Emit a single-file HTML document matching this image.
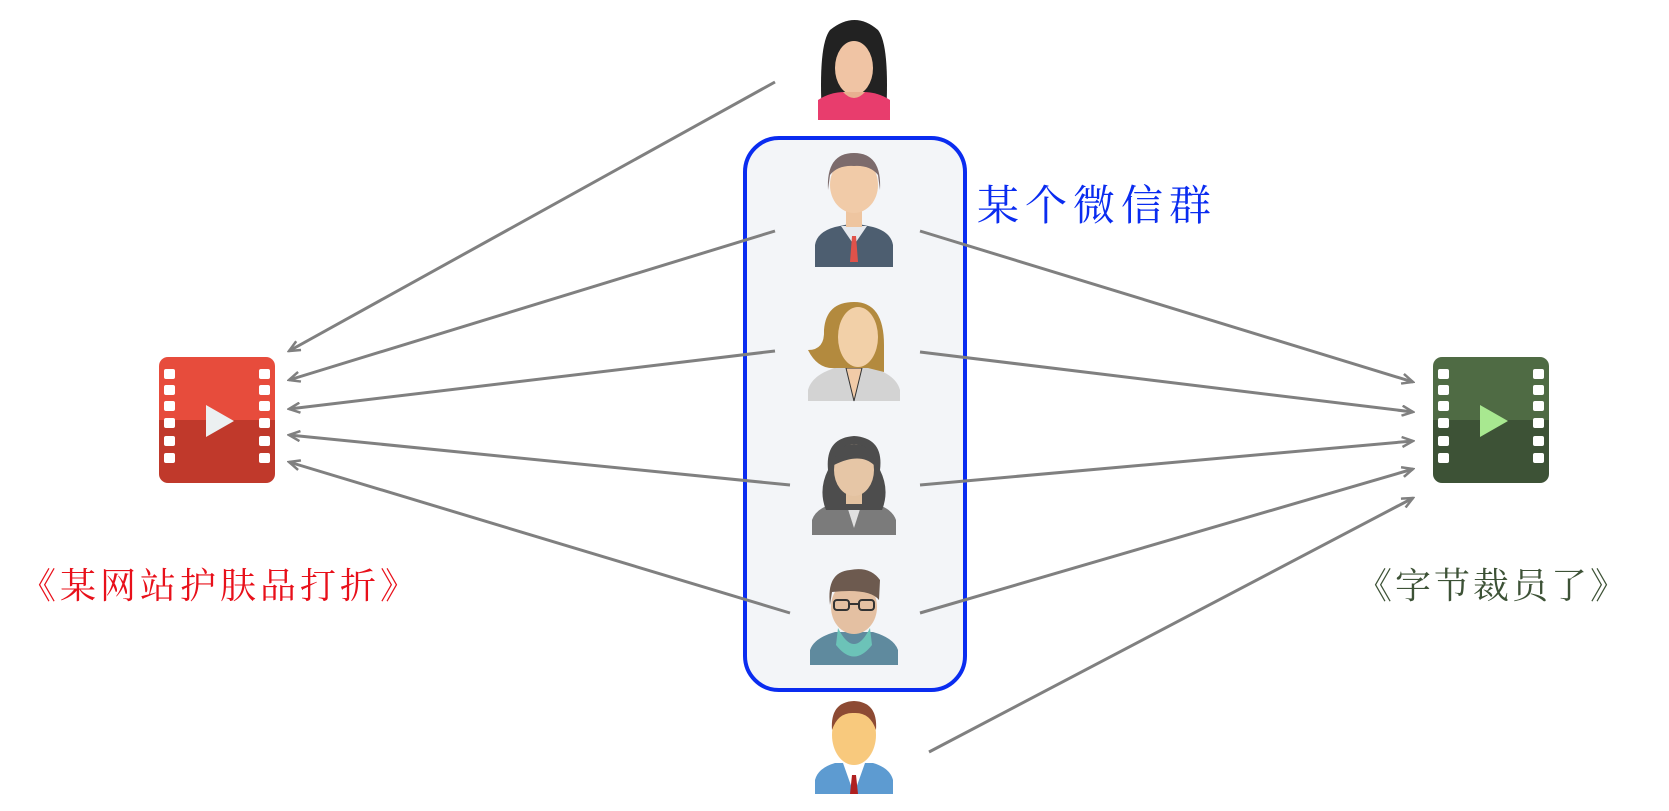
<!DOCTYPE html>
<html><head><meta charset="utf-8"><style>
html,body{margin:0;padding:0;background:#fff;width:1669px;height:811px;overflow:hidden}
svg{display:block}
text{font-family:"Liberation Serif","Noto Serif CJK SC",serif}
</style></head><body>
<svg width="1669" height="811" viewBox="0 0 1669 811" xmlns="http://www.w3.org/2000/svg">
<defs>
<marker id="ah" markerWidth="14" markerHeight="12" refX="12" refY="6" orient="auto" markerUnits="userSpaceOnUse">
<path d="M1,1 L12,6 L1,11" fill="none" stroke="#808080" stroke-width="2.5"/>
</marker>
</defs>
<rect x="745" y="138" width="220" height="552" rx="34" fill="#f3f5f8" stroke="#0a2cf0" stroke-width="4"/>
<g stroke="#808080" stroke-width="3" fill="none" marker-end="url(#ah)">
<line x1="775" y1="82" x2="289" y2="351"/>
<line x1="775" y1="231" x2="289" y2="380"/>
<line x1="775" y1="351" x2="289" y2="409"/>
<line x1="790" y1="485" x2="289" y2="435"/>
<line x1="790" y1="613" x2="289" y2="462"/>
<line x1="920" y1="231" x2="1413" y2="382"/>
<line x1="920" y1="352" x2="1413" y2="412"/>
<line x1="920" y1="485" x2="1413" y2="441"/>
<line x1="920" y1="613" x2="1413" y2="469"/>
<line x1="929" y1="752" x2="1413" y2="498"/>
</g>
<g transform="translate(159,357)">
<path d="M9,0 H107 A9,9 0 0 1 116,9 V63 H0 V9 A9,9 0 0 1 9,0Z" fill="#e74c3c"/>
<path d="M0,63 H116 V117 A9,9 0 0 1 107,126 H9 A9,9 0 0 1 0,117Z" fill="#c0392b"/>
<g fill="#fff">
<rect x="5" y="12" width="11" height="10" rx="2"/><rect x="5" y="28" width="11" height="10" rx="2"/><rect x="5" y="44" width="11" height="10" rx="2"/><rect x="5" y="61" width="11" height="10" rx="2"/><rect x="5" y="79" width="11" height="10" rx="2"/><rect x="5" y="96" width="11" height="10" rx="2"/>
<rect x="100" y="12" width="11" height="10" rx="2"/><rect x="100" y="28" width="11" height="10" rx="2"/><rect x="100" y="44" width="11" height="10" rx="2"/><rect x="100" y="61" width="11" height="10" rx="2"/><rect x="100" y="79" width="11" height="10" rx="2"/><rect x="100" y="96" width="11" height="10" rx="2"/>
</g>
<path d="M47,48 L75,64 L47,80Z" fill="#ecf0f1"/>
</g>
<g transform="translate(1433,357)">
<path d="M9,0 H107 A9,9 0 0 1 116,9 V63 H0 V9 A9,9 0 0 1 9,0Z" fill="#4f6b44"/>
<path d="M0,63 H116 V117 A9,9 0 0 1 107,126 H9 A9,9 0 0 1 0,117Z" fill="#3d5236"/>
<g fill="#fff">
<rect x="5" y="12" width="11" height="10" rx="2"/><rect x="5" y="28" width="11" height="10" rx="2"/><rect x="5" y="44" width="11" height="10" rx="2"/><rect x="5" y="61" width="11" height="10" rx="2"/><rect x="5" y="79" width="11" height="10" rx="2"/><rect x="5" y="96" width="11" height="10" rx="2"/>
<rect x="100" y="12" width="11" height="10" rx="2"/><rect x="100" y="28" width="11" height="10" rx="2"/><rect x="100" y="44" width="11" height="10" rx="2"/><rect x="100" y="61" width="11" height="10" rx="2"/><rect x="100" y="79" width="11" height="10" rx="2"/><rect x="100" y="96" width="11" height="10" rx="2"/>
</g>
<path d="M47,48 L75,64 L47,80Z" fill="#a8e890"/>
</g>
<g>
<path d="M822,118 Q818,45 830,30 Q855,10 878,30 Q890,45 886,118Z" fill="#222"/>
<ellipse cx="854" cy="68" rx="19" ry="27" fill="#f0c4a4"/>
<path d="M818,120 V100 Q830,92 845,92 H863 Q878,92 890,100 V120Z" fill="#e83d6d"/>
<path d="M843,92 Q854,104 865,92Z" fill="#e8b090"/>
</g>
<g>
<path d="M815,267 V245 Q817,232 835,227 L854,223 L873,227 Q891,232 893,245 V267Z" fill="#4d5e70"/>
<path d="M841,226 L854,245 L867,226Z" fill="#e6e9ee"/>
<path d="M852,236 H856 L858,262 H850Z" fill="#e0524a"/>
<rect x="846" y="205" width="16" height="22" fill="#eec5a0"/>
<ellipse cx="854" cy="185" rx="24" ry="28" fill="#f1cba8"/>
<path d="M828,190 Q826,153 854,153 Q882,153 880,190 L878,175 Q870,165 854,166 Q838,165 830,175Z" fill="#7c6b6c"/>
</g>
<g>
<path d="M808,401 V390 Q812,375 835,368 H873 Q896,375 900,390 V401Z" fill="#d3d3d3"/>
<path d="M846,368 L854,401 L862,368Z" fill="#f1cba8" stroke="#333" stroke-width="1"/>
<path d="M824,330 Q826,302 854,302 Q884,302 884,345 L884,372 L868,368 L836,368 Q818,370 808,350 Q825,350 824,330Z" fill="#b38a3e"/>
<ellipse cx="858" cy="337" rx="20" ry="30" fill="#f2d0a8"/>
</g>
<g>
<path d="M812,535 V520 Q816,508 835,503 H873 Q892,508 896,520 V535Z" fill="#7b7b7b"/>
<path d="M846,503 L854,528 L862,503Z" fill="#e0e0e0"/>
<path d="M826,510 Q818,490 828,470 Q825,438 854,436 Q884,438 880,470 Q890,490 882,510Z" fill="#4d4d4d"/>
<rect x="846" y="488" width="16" height="16" fill="#e3c2a0"/>
<ellipse cx="854" cy="470" rx="20" ry="26" fill="#e6c6a6"/>
<path d="M834,465 Q834,445 854,444 Q874,445 874,465 Q860,452 834,465Z" fill="#4d4d4d"/>
</g>
<g>
<path d="M810,665 V650 Q814,638 835,632 H873 Q894,638 898,650 V665Z" fill="#5f8a9e"/>
<path d="M838,628 Q854,660 870,628 L872,645 Q854,668 836,645Z" fill="#6cc3b8"/>
<ellipse cx="854" cy="607" rx="23" ry="27" fill="#e4c0a2"/>
<path d="M830,605 Q826,572 850,570 Q870,566 880,580 L879,600 Q870,588 832,592Z" fill="#6d5a4f"/>
<g fill="none" stroke="#333" stroke-width="2"><rect x="834" y="600" width="15" height="10" rx="3"/><rect x="859" y="600" width="15" height="10" rx="3"/><line x1="849" y1="604" x2="859" y2="604"/></g>
</g>
<g>
<path d="M815,794 V780 Q818,768 835,763 H873 Q890,768 893,780 V794Z" fill="#5d9bd1"/>
<path d="M843,763 L854,794 L865,763Z" fill="#fff"/>
<path d="M852,775 H856 L858,794 H850Z" fill="#b02020"/>
<ellipse cx="854" cy="735" rx="22" ry="30" fill="#f8c97d"/>
<path d="M832,730 Q830,702 854,701 Q878,702 876,730 Q870,712 854,713 Q838,712 832,730Z" fill="#8d4a33"/>
</g>
<text x="977" y="220" font-size="42" letter-spacing="6" fill="#0a2cf0">某个微信群</text>
<text x="20" y="598" font-size="36" letter-spacing="4" fill="#e8101a">《某网站护肤品打折》</text>
<text x="1356" y="598" font-size="36" letter-spacing="3" fill="#3d5236">《字节裁员了》</text>
</svg>
</body></html>
